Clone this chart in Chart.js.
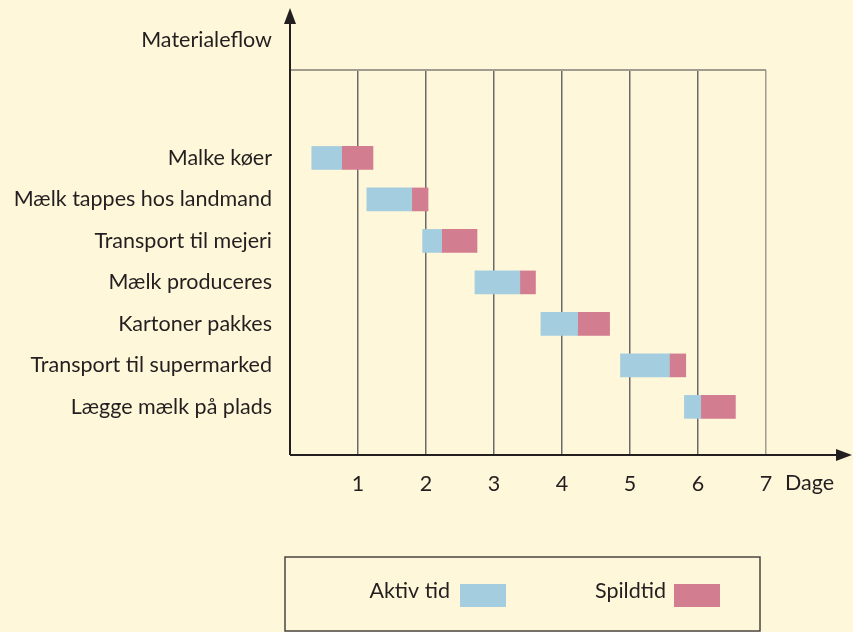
<!DOCTYPE html>
<html>
<head>
<meta charset="utf-8">
<script src="https://cdn.jsdelivr.net/npm/chart.js@4/dist/chart.umd.min.js"></script>
<style>
  html, body { margin: 0; padding: 0; background: #FEF7D9; }
  #wrap { width: 853px; height: 632px; }
</style>
</head>
<body>
<div id="wrap"><canvas id="c" width="853" height="632"></canvas></div>
<script>
const categories = [
  "Malke køer",
  "Mælk tappes hos landmand",
  "Transport til mejeri",
  "Mælk produceres",
  "Kartoner pakkes",
  "Transport til supermarked",
  "Lægge mælk på plads"
];
const activeStart = [0.32, 1.13, 1.95, 2.72, 3.69, 4.86, 5.80];
const activeEnd   = [0.76, 1.79, 2.23, 3.38, 4.23, 5.58, 6.04];
const wasteEnd    = [1.22, 2.03, 2.75, 3.61, 4.70, 5.82, 6.55];
const dayTicks = [1, 2, 3, 4, 5, 6, 7];
const seriesNames = ["Aktiv tid", "Spildtid"];
const yTitle = "Materialeflow";
const xTitle = "Dage";

const FONT = "Lato";
const FS = 21.5;
const TXT = "#231F20";
const BLUE = "#A5CDE0";
const PINK = "#D37D90";

const activeData = categories.map((c, i) => ({ x: [activeStart[i], activeEnd[i]], y: i }));
const wasteData = categories.map((c, i) => ({ x: [activeEnd[i], wasteEnd[i]], y: i }));

const decor = {
  id: 'decor',
  beforeDraw(chart) {
    const ctx = chart.ctx;
    ctx.save();
    ctx.fillStyle = '#FEF7D9';
    ctx.fillRect(0, 0, chart.width, chart.height);
    ctx.restore();
  },
  afterDraw(chart) {
    const ctx = chart.ctx;
    const a = chart.chartArea;
    const xs = chart.scales.x;
    ctx.save();
    // top line
    ctx.strokeStyle = '#A09C8E';
    ctx.lineWidth = 2;
    ctx.beginPath();
    ctx.moveTo(a.left, a.top);
    ctx.lineTo(xs.getPixelForValue(7), a.top);
    ctx.stroke();
    // axes
    ctx.strokeStyle = TXT;
    ctx.fillStyle = TXT;
    ctx.lineWidth = 2;
    ctx.beginPath();
    ctx.moveTo(a.left, a.bottom);
    ctx.lineTo(a.left, 20);
    ctx.moveTo(a.left, a.bottom);
    ctx.lineTo(a.right, a.bottom);
    ctx.stroke();
    // arrowheads
    ctx.beginPath();
    ctx.moveTo(a.left, 8);
    ctx.lineTo(a.left - 6, 24);
    ctx.lineTo(a.left + 6, 24);
    ctx.closePath();
    ctx.fill();
    ctx.beginPath();
    ctx.moveTo(852, a.bottom);
    ctx.lineTo(836, a.bottom - 6);
    ctx.lineTo(836, a.bottom + 6);
    ctx.closePath();
    ctx.fill();
    // titles
    ctx.font = FS + 'px ' + FONT;
    ctx.textBaseline = 'middle';
    ctx.textAlign = 'right';
    ctx.fillText(yTitle, 272, 40);
    ctx.textAlign = 'left';
    ctx.fillText(xTitle, 785, 483);
    // legend box
    ctx.strokeStyle = '#4A4540';
    ctx.lineWidth = 1.5;
    ctx.strokeRect(285, 557, 475, 74);
    const ds = chart.data.datasets;
    const items = [{ tx: 450, sx: 460 }, { tx: 666, sx: 674 }];
    ds.forEach((d, i) => {
      ctx.fillStyle = TXT;
      ctx.textAlign = 'right';
      ctx.fillText(d.label, items[i].tx, 591);
      ctx.fillStyle = d.backgroundColor;
      ctx.fillRect(items[i].sx, 584, 46, 23);
    });
    ctx.restore();
  }
};

new Chart(document.getElementById('c'), {
  type: 'bar',
  data: {
    datasets: [
      { label: seriesNames[0], data: activeData, backgroundColor: BLUE, barThickness: 23, grouped: false },
      { label: seriesNames[1], data: wasteData, backgroundColor: PINK, barThickness: 23, grouped: false }
    ]
  },
  options: {
    indexAxis: 'y',
    responsive: false,
    animation: false,
    layout: { padding: { top: 70, right: 13, left: 0, bottom: 0 } },
    plugins: { legend: { display: false }, tooltip: { enabled: false } },
    scales: {
      x: {
        type: 'linear',
        min: 0,
        max: 550 / 68,
        afterBuildTicks(s) { s.ticks = dayTicks.map(v => ({ value: v })); },
        afterFit(s) { s.height = 177; },
        grid: {
          drawTicks: false,
          color: ctx => (ctx.tick && ctx.tick.value === 7) ? '#A09C8E' : '#6A6A6A',
          lineWidth: 1.5
        },
        border: { display: false },
        ticks: { padding: 16, color: TXT, font: { family: FONT, size: FS } }
      },
      y: {
        type: 'linear',
        reverse: true,
        offset: false,
        min: -2.12,
        max: 7.16,
        afterBuildTicks(s) { s.ticks = categories.map((c, i) => ({ value: i })); },
        afterFit(s) { s.width = 290; },
        grid: { display: false, drawTicks: false },
        border: { display: false },
        ticks: {
          padding: 18,
          color: TXT,
          font: { family: FONT, size: FS },
          callback: v => categories[v]
        }
      }
    }
  },
  plugins: [decor]
});
</script>
</body>
</html>
